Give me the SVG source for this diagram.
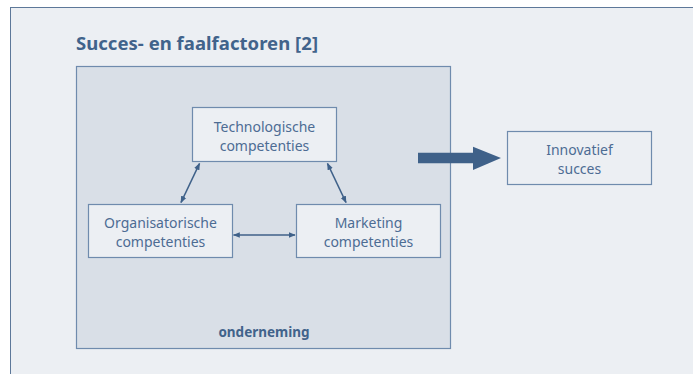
<svg xmlns="http://www.w3.org/2000/svg" width="693" height="374" viewBox="0 0 693 374">
<style>
.box{fill:#eceff3;stroke:#6f8bad;stroke-width:1.2}
.t{font-family:"Noto Sans","Open Sans",sans-serif;font-size:14px;fill:#4d6c93;text-anchor:middle}
.b{font-family:"Noto Sans","Open Sans",sans-serif;font-weight:bold;fill:#41638b}
.c{stroke:#3f6189;stroke-width:1.6;fill:none;marker-start:url(#ah);marker-end:url(#ah)}
</style>
<defs>
<marker id="ah" viewBox="0 0 10 10" refX="9" refY="5" markerWidth="7" markerHeight="7" orient="auto-start-reverse" markerUnits="userSpaceOnUse">
<path d="M0,1 L10,5 L0,9 z" fill="#3f6189"/>
</marker>
</defs>
<rect x="0" y="0" width="693" height="374" fill="#ffffff"/>
<rect x="10.5" y="7.5" width="690" height="374" fill="#eceff3" stroke="#5d7899" stroke-width="1"/>
<text class="b" x="76" y="50" font-size="18.5" textLength="242" lengthAdjust="spacing">Succes- en faalfactoren [2]</text>
<g id="onderneming">
<rect x="76.5" y="66.5" width="374" height="282" fill="#d9dfe7" stroke="#6f8bad" stroke-width="1.2"/>
<text class="b" x="264" y="337" font-size="13.5" text-anchor="middle">onderneming</text>
</g>
<g id="tech">
<rect class="box" x="192.5" y="107.5" width="144" height="54"/>
<text class="t" x="264.5" y="132">Technologische</text>
<text class="t" x="264.5" y="151">competenties</text>
</g>
<g id="org">
<rect class="box" x="88.5" y="204.5" width="144" height="53"/>
<text class="t" x="160.5" y="228">Organisatorische</text>
<text class="t" x="160.5" y="247">competenties</text>
</g>
<g id="marketing">
<rect class="box" x="296.5" y="204.5" width="144" height="53"/>
<text class="t" x="368.5" y="228">Marketing</text>
<text class="t" x="368.5" y="247">competenties</text>
</g>
<g id="innovatief">
<rect class="box" x="507.5" y="131.5" width="144" height="53"/>
<text class="t" x="579.5" y="155">Innovatief</text>
<text class="t" x="579.5" y="174">succes</text>
</g>
<g id="connectors">
<line class="c" x1="181" y1="202.5" x2="199.5" y2="163.5"/>
<line class="c" x1="327.5" y1="163.5" x2="346" y2="202.5"/>
<line class="c" x1="233.5" y1="235" x2="295" y2="235"/>
<path d="M418,152.7 L473,152.7 L473,146.7 L501,158 L473,170 L473,163.3 L418,163.3 z" fill="#3f6189"/>
</g>
</svg>
